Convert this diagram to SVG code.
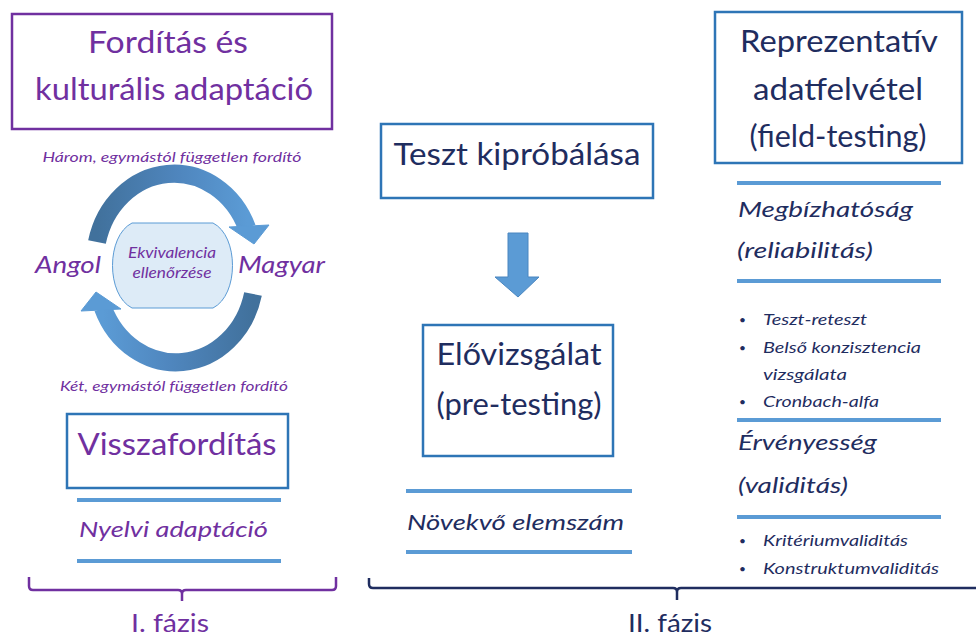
<svg xmlns="http://www.w3.org/2000/svg" width="976" height="637" viewBox="0 0 976 637">
<style>
  text { font-family: Lato, "Liberation Sans", sans-serif; }
  .pur { fill: #7030A0; }
  .navy { fill: #1F2D5F; }
  .big { font-size: 31px; }
  .it { font-style: italic; }
  .pbox { fill: #fff; stroke: #7030A0; stroke-width: 2.5; }
  .bbox { fill: #fff; stroke: #2E75B6; stroke-width: 2.5; }
  .sep { stroke: #5B9BD5; stroke-width: 4; }
  .mid { text-anchor: middle; }
  .h2 { font-size: 21px; }
  .bl { font-size: 16px; }
</style>
<defs>
  <linearGradient id="arcg" x1="0" y1="0" x2="1" y2="0">
    <stop offset="0" stop-color="#41719C"/>
    <stop offset="0.55" stop-color="#4F86BE"/>
    <stop offset="1" stop-color="#5B9BD5"/>
  </linearGradient>
</defs>

<g id="n-forditas">
  <rect class="pbox" x="12" y="14" width="320" height="115"/>
  <text class="pur big mid" x="168" y="53" font-size="32" textLength="160" lengthAdjust="spacingAndGlyphs">Fordítás és</text>
  <text class="pur big mid" x="174" y="100" font-size="32" textLength="278" lengthAdjust="spacingAndGlyphs">kulturális adaptáció</text>
</g>

<g id="n-cycle">
  <text class="pur it mid" x="172" y="162" font-size="14" textLength="259" lengthAdjust="spacingAndGlyphs">Három, egymástól független fordító</text>
  <g id="arc-top">
    <path d="M 97 242 A 79 88 0 0 1 247 228" fill="none" stroke="url(#arcg)" stroke-width="18"/>
    <polygon points="229,227 269,225 254,244" fill="#5B9BD5" stroke="#5B9BD5" stroke-width="1"/>
  </g>
  <g id="arc-bottom" transform="rotate(180 175 268)">
    <path d="M 97 242 A 79 88 0 0 1 247 228" fill="none" stroke="url(#arcg)" stroke-width="18"/>
    <polygon points="229,227 269,225 254,244" fill="#5B9BD5" stroke="#5B9BD5" stroke-width="1"/>
  </g>
  <g id="n-ekvivalencia">
    <path d="M 132 223 H 213 C 239 236 239 295 213 308 H 132 C 106 295 106 236 132 223 Z" fill="#DDEBF7" stroke="#5B9BD5" stroke-width="1"/>
    <text class="pur it mid" x="172" y="258" font-size="15" textLength="88" lengthAdjust="spacingAndGlyphs">Ekvivalencia</text>
    <text class="pur it mid" x="172" y="278" font-size="15" textLength="79" lengthAdjust="spacingAndGlyphs">ellenőrzése</text>
  </g>
  <text class="pur it" x="35" y="273" font-size="23" textLength="66" lengthAdjust="spacingAndGlyphs">Angol</text>
  <text class="pur it" x="238" y="273" font-size="23" textLength="87" lengthAdjust="spacingAndGlyphs">Magyar</text>
  <text class="pur it mid" x="174" y="391" font-size="14" textLength="228" lengthAdjust="spacingAndGlyphs">Két, egymástól független fordító</text>
</g>

<g id="n-visszaforditas">
  <rect class="bbox" x="67" y="414" width="221" height="74"/>
  <text class="pur big mid" x="177" y="455" textLength="199" lengthAdjust="spacingAndGlyphs">Visszafordítás</text>
</g>

<g id="n-nyelvi">
  <line class="sep" x1="77" y1="500" x2="281" y2="500"/>
  <text class="pur it" x="79" y="537" font-size="22" textLength="189" lengthAdjust="spacingAndGlyphs">Nyelvi adaptáció</text>
  <line class="sep" x1="77" y1="561" x2="281" y2="561"/>
</g>

<g id="n-teszt">
  <rect class="bbox" x="381" y="124" width="272" height="74"/>
  <text class="navy big mid" x="517" y="165" textLength="247" lengthAdjust="spacingAndGlyphs">Teszt kipróbálása</text>
</g>

<g id="n-elovizsgalat">
  <rect class="bbox" x="423" y="325" width="190" height="131"/>
  <text class="navy big mid" x="519" y="365" textLength="165" lengthAdjust="spacingAndGlyphs">Elővizsgálat</text>
  <text class="navy big mid" x="519" y="415" textLength="165" lengthAdjust="spacingAndGlyphs">(pre-testing)</text>
</g>

<g id="n-novekvo">
  <line class="sep" x1="406" y1="491" x2="632" y2="491"/>
  <text class="navy it" x="407" y="530" font-size="22" textLength="217" lengthAdjust="spacingAndGlyphs">Növekvő elemszám</text>
  <line class="sep" x1="406" y1="552" x2="632" y2="552"/>
</g>

<g id="n-reprezentativ">
  <rect class="bbox" x="715" y="12" width="247" height="151"/>
  <text class="navy big mid" x="839" y="52" textLength="198" lengthAdjust="spacingAndGlyphs">Reprezentatív</text>
  <text class="navy big mid" x="838" y="100" textLength="170" lengthAdjust="spacingAndGlyphs">adatfelvétel</text>
  <text class="navy big mid" x="838" y="147" textLength="177" lengthAdjust="spacingAndGlyphs">(field-testing)</text>
</g>

<g id="n-megbizhatosag">
  <line class="sep" x1="737" y1="183" x2="941" y2="183"/>
  <text class="navy it h2" x="738" y="217" textLength="175" lengthAdjust="spacingAndGlyphs">Megbízhatóság</text>
  <text class="navy it h2" x="737" y="258" textLength="136" lengthAdjust="spacingAndGlyphs">(reliabilitás)</text>
  <line class="sep" x1="737" y1="281" x2="941" y2="281"/>
  <g class="navy it bl">
    <text x="763" y="325" textLength="104" lengthAdjust="spacingAndGlyphs">Teszt-reteszt</text>
    <text x="763" y="353" textLength="158" lengthAdjust="spacingAndGlyphs">Belső konzisztencia</text>
    <text x="763" y="380" textLength="84" lengthAdjust="spacingAndGlyphs">vizsgálata</text>
    <text x="763" y="407" textLength="116" lengthAdjust="spacingAndGlyphs">Cronbach-alfa</text>
  </g>
  <g class="navy" font-size="12">
    <text x="739" y="324">•</text>
    <text x="739" y="352">•</text>
    <text x="739" y="406">•</text>
  </g>
  <line class="sep" x1="737" y1="420" x2="941" y2="420"/>
</g>

<g id="n-ervenyesseg">
  <text class="navy it h2" x="738" y="450" textLength="139" lengthAdjust="spacingAndGlyphs">Érvényesség</text>
  <text class="navy it h2" x="738" y="493" textLength="110" lengthAdjust="spacingAndGlyphs">(validitás)</text>
  <line class="sep" x1="737" y1="517" x2="941" y2="517"/>
  <g class="navy it bl">
    <text x="763" y="546" textLength="145" lengthAdjust="spacingAndGlyphs">Kritériumvaliditás</text>
    <text x="763" y="574" textLength="176" lengthAdjust="spacingAndGlyphs">Konstruktumvaliditás</text>
  </g>
  <g class="navy" font-size="12">
    <text x="739" y="545">•</text>
    <text x="739" y="573">•</text>
  </g>
</g>

<g id="connectors">
  <polygon id="arrow-down" points="508,233 528,233 528,277 539,277 518,297 495,277 508,277" fill="#5B9BD5" stroke="#4A86C0" stroke-width="1"/>
  <path id="brace-1" d="M 29 577 V 586 Q 29 590 33 590 H 178 Q 182 590 182 594 V 601 M 182 594 Q 182 590 186 590 H 332 Q 336 590 336 586 V 577" fill="none" stroke="#7030A0" stroke-width="2.5"/>
  <path id="brace-2" d="M 369 578 V 584 Q 369 588 373 588 H 673 Q 677 588 677 592 V 600 M 677 592 Q 677 588 681 588 H 976" fill="none" stroke="#1F2D5F" stroke-width="2.5"/>
</g>

<g id="n-faz1"><text class="pur mid" x="170" y="632" font-size="25" textLength="78" lengthAdjust="spacingAndGlyphs">I. fázis</text></g>
<g id="n-faz2"><text class="navy mid" x="670" y="632" font-size="25" textLength="84" lengthAdjust="spacingAndGlyphs">II. fázis</text></g>
</svg>
